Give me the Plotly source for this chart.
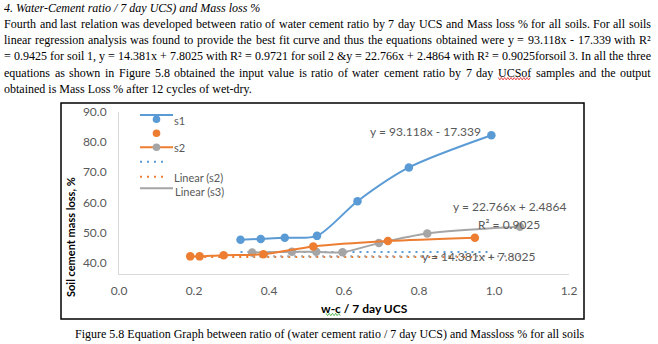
import plotly.graph_objects as go

# ---- data -------------------------------------------------------------
s1_x = [0.324, 0.378, 0.442, 0.528, 0.636, 0.773, 0.993]
s1_y = [47.6, 47.9, 48.3, 48.9, 60.4, 71.6, 82.3]

s2_x = [0.190, 0.215, 0.279, 0.385, 0.518, 0.717, 0.949]
s2_y = [42.1, 42.1, 42.5, 42.8, 45.4, 47.2, 48.3]

s3_x = [0.355, 0.461, 0.526, 0.596, 0.693, 0.822, 1.069]
s3_y = [43.4, 43.6, 43.6, 43.5, 46.5, 49.7, 51.9]

# fitted lines as plotted
trend1_x = [0.324, 0.993]
trend1_y = [43.55, 43.55]
trend2_x = [0.190, 0.949]
trend2_y = [41.9, 41.9]
trend3_x = [0.355, 1.069]
trend3_y = [42.1, 42.1]

y_ticks = [40, 50, 60, 70, 80, 90]
x_ticks = [0.0, 0.2, 0.4, 0.6, 0.8, 1.0, 1.2]

eq_labels = ["y = 93.118x - 17.339", "y = 22.766x + 2.4864",
             "R\u00b2 = 0.9025", "y = 14.381x + 7.8025"]

title_line = "4. Water-Cement ratio / 7 day UCS) and Mass loss %"
body_lines = [
    "Fourth and last relation was developed between ratio of water cement ratio by 7 day UCS and Mass loss % for all soils. For all soils",
    "linear regression analysis was found to provide the best fit curve and thus the equations obtained were y = 93.118x - 17.339 with R\u00b2",
    "= 0.9425 for soil 1, y = 14.381x + 7.8025 with R\u00b2 = 0.9721 for soil 2 &y = 22.766x + 2.4864 with R\u00b2 = 0.9025forsoil 3. In all the three",
    "equations as shown in Figure 5.8 obtained the input value is ratio of water cement ratio by 7 day UCSof samples and the output",
    "obtained is Mass Loss % after 12 cycles of wet-dry.",
]
caption = "Figure 5.8 Equation Graph between ratio of (water cement ratio / 7 day UCS) and Massloss % for all soils"

# ---- page geometry ----------------------------------------------------
W, H = 658, 344
L, R, T, B = 119, 89, 112, 70
PW, PH = W - L - R, H - T - B


def px(x, y):
    """pixel position on the page -> paper coordinates"""
    return (x - L) / PW, (H - B - y) / PH


BLUE, ORANGE, GREY = "#5b9bd5", "#ed7d31", "#a5a5a5"
TXT = "#595959"
SERIF = "Liberation Serif"
SANS = "Lato"

# Times-compatible advance widths (1/1000 em) used to justify the paragraph
_W = dict(zip("abcdefghijklmnopqrstuvwxyz",
              [444, 500, 444, 500, 444, 333, 500, 500, 278, 278, 500, 278, 778,
               500, 500, 500, 500, 333, 389, 278, 500, 500, 722, 500, 500, 444]))
_W.update(zip("ABCDEFGHIJKLMNOPQRSTUVWXYZ",
              [722, 667, 667, 722, 611, 556, 722, 722, 333, 389, 722, 611, 889,
               722, 722, 556, 722, 667, 556, 611, 722, 722, 944, 722, 722, 611]))
_W.update({d: 500 for d in "0123456789"})
_W.update({" ": 250, ".": 250, ",": 250, "%": 833, "=": 564, "+": 564, "-": 333,
           "&": 778, "\u00b2": 300, "/": 278, "(": 333, ")": 333})


def serif_width(s, size):
    return sum(_W.get(ch, 500) for ch in s) * size / 1000.0


fig = go.Figure()

# trend lines (dotted)
for tx, ty, c in [(trend1_x, trend1_y, BLUE), (trend2_x, trend2_y, ORANGE),
                  (trend3_x, trend3_y, GREY)]:
    fig.add_trace(go.Scatter(x=tx, y=ty, mode="lines",
                             line=dict(color=c, width=2, dash="2px,5px"),
                             showlegend=False, hoverinfo="skip"))

# data series with smoothed lines
for sx, sy, c in [(s3_x, s3_y, GREY), (s2_x, s2_y, ORANGE), (s1_x, s1_y, BLUE)]:
    fig.add_trace(go.Scatter(x=sx, y=sy, mode="lines+markers",
                             line=dict(color=c, width=2, shape="spline", smoothing=0.8),
                             marker=dict(color=c, size=8.5),
                             showlegend=False))

ann = []
shapes = []


def text(x, y, s, size, font=SANS, color=TXT, anchor="left", bold=False, italic=False, angle=0):
    if bold:
        s = "<b>" + s + "</b>"
    if italic:
        s = "<i>" + s + "</i>"
    xx, yy = px(x, y)
    ann.append(dict(x=xx, y=yy, xref="paper", yref="paper", text=s, showarrow=False,
                    xanchor=anchor, yanchor="middle", textangle=angle,
                    borderpad=0, borderwidth=0,
                    font=dict(family=font, size=size, color=color)))


def squiggle(x0, x1, y, color):
    pts = []
    k = 0
    x = x0
    while x <= x1:
        pts.append(px(x, y + (1.2 if k % 2 else -1.2)))
        x += 1.6
        k += 1
    path = "M " + " L ".join(f"{a:.5f},{b:.5f}" for a, b in pts)
    shapes.append(dict(type="path", xref="paper", yref="paper", path=path,
                       line=dict(color=color, width=0.8)))


# ---- document text ----------------------------------------------------
FS = 12
LEFT, RIGHT = 4, 651
text(LEFT, 8, title_line, FS, font=SERIF, color="#000", italic=True)
for i, line in enumerate(body_lines):
    y = 23.5 + i * 16.4
    words = line.split(" ")
    if i == len(body_lines) - 1:
        text(LEFT, y, line, FS, font=SERIF, color="#000")
        continue
    widths = [serif_width(w, FS) for w in words]
    gap = (RIGHT - LEFT - sum(widths)) / (len(words) - 1)
    x = LEFT
    for w, wd in zip(words, widths):
        text(x, y, w, FS, font=SERIF, color="#000")
        if w == "UCSof":
            squiggle(x, x + wd, y + 6, "#e02020")
        x += wd + gap
text(330, 334, caption, FS, font=SERIF, color="#000", anchor="center")

# ---- equation labels --------------------------------------------------
text(425, 131.5, eq_labels[0], 12, anchor="center")
text(509, 206, eq_labels[1], 12, anchor="center")
text(509, 224.5, eq_labels[2], 12, anchor="center")
text(478, 256, eq_labels[3], 12, anchor="center")

# ---- axis titles ------------------------------------------------------
text(70, 237, "Soil cement mass loss, %", 11, color="#000", bold=True, anchor="center", angle=-90)
text(364, 308, "w-c / 7 day UCS", 12, color="#000", bold=True, anchor="center")
squiggle(326, 342, 314.5, "#3aa83a")

# ---- legend -----------------------------------------------------------


def hline(x0, x1, y, color, width=2, dash="solid"):
    a0, b0 = px(x0, y)
    a1, _ = px(x1, y)
    shapes.append(dict(type="line", xref="paper", yref="paper", x0=a0, x1=a1, y0=b0, y1=b0,
                       line=dict(color=color, width=width, dash=dash)))


def dot(x, y, color, r=3.8):
    a0, b0 = px(x - r, y + r)
    a1, b1 = px(x + r, y - r)
    shapes.append(dict(type="circle", xref="paper", yref="paper", x0=a0, x1=a1, y0=b0, y1=b1,
                       fillcolor=color, line=dict(color=color, width=0)))


LEG_FS = 11
hline(140, 173, 115, BLUE)
dot(156.5, 119.3, BLUE)
text(174, 120.5, "s1", LEG_FS)
dot(156.5, 133.3, ORANGE)
hline(140, 173, 147.3, ORANGE)
dot(156.5, 147.3, GREY)
text(173.5, 147, "s2", LEG_FS)
hline(140, 167, 161.7, BLUE, dash="2px,5px")
hline(140, 167, 176.7, ORANGE, dash="2px,5px")
text(174, 177, "Linear (s2)", LEG_FS)
hline(140, 173, 188.3, GREY)
text(175, 191, "Linear (s3)", LEG_FS)

# ---- chart frame ------------------------------------------------------
a0, b0 = px(61, 103)
a1, b1 = px(584, 319)
shapes.append(dict(type="rect", xref="paper", yref="paper", x0=a0, x1=a1, y0=b1, y1=b0,
                   line=dict(color="#000", width=1.5), layer="below"))

fig.update_layout(
    width=W, height=H,
    margin=dict(l=L, r=R, t=T, b=B, pad=0),
    paper_bgcolor="white", plot_bgcolor="white",
    showlegend=False,
    annotations=ann, shapes=shapes,
    xaxis=dict(range=[0, 1.2], tickvals=x_ticks, ticktext=[f"{v:.1f}" for v in x_ticks],
               showgrid=False, zeroline=False, showline=True, linecolor="#d9d9d9", linewidth=1,
               ticks="", ticklen=0, ticklabelstandoff=6,
               tickfont=dict(family=SANS, size=12, color=TXT)),
    yaxis=dict(range=[36.25, 90], tickvals=y_ticks, ticktext=[f"{v:.1f}" for v in y_ticks],
               showgrid=False, zeroline=False, showline=True, linecolor="#d9d9d9", linewidth=1,
               ticks="", ticklen=0, ticklabelstandoff=9,
               tickfont=dict(family=SANS, size=12, color=TXT)),
)

fig.write_html("out.html")
